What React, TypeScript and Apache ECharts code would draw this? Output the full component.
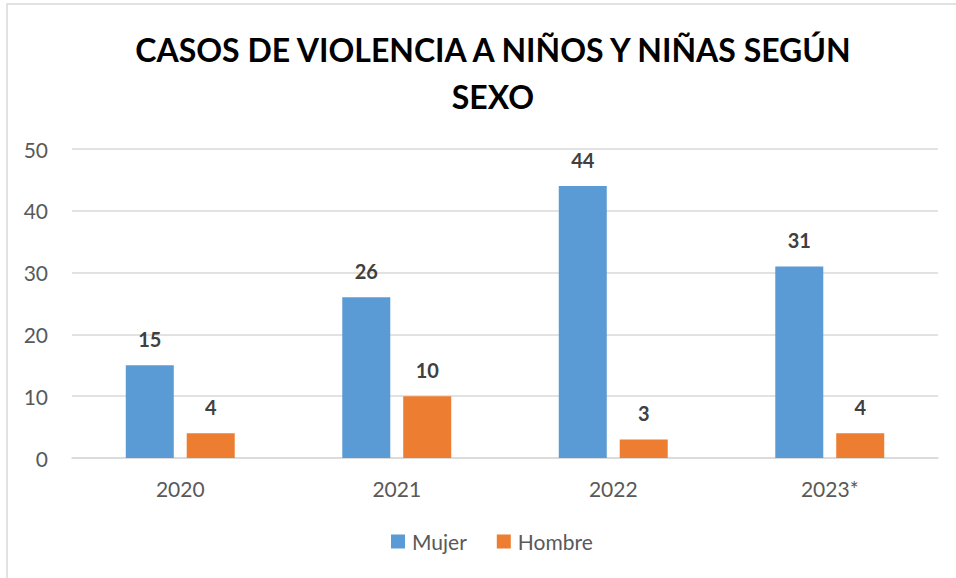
import React, { useEffect, useRef } from "react";
import * as echarts from "echarts";

const categories = ["2020", "2021", "2022", "2023*"];
const mujer = [15, 26, 44, 31];
const hombre = [4, 10, 3, 4];
const seriesNames = ["Mujer", "Hombre"];
const titleText = "CASOS DE VIOLENCIA A NIÑOS Y NIÑAS SEGÚN\nSEXO";

const FONT = "Lato, 'Open Sans', sans-serif";

export default function App() {
  const ref = useRef<HTMLDivElement>(null);
  useEffect(() => {
    if (!ref.current) return;
    const chart = echarts.init(ref.current, undefined, { renderer: "svg" });
    const labelStyle = {
      show: true,
      position: "top" as const,
      distance: 16,
      fontFamily: FONT,
      fontSize: 20,
      fontWeight: "bold" as const,
      color: "#404040",
    };
    chart.setOption({
      animation: false,
      backgroundColor: "#ffffff",
      textStyle: { fontFamily: FONT },
      title: {
        text: titleText,
        left: 488,
        textAlign: "center",
        top: 21,
        textStyle: {
          fontFamily: FONT,
          fontSize: 32,
          fontWeight: "bold",
          color: "#000000",
          lineHeight: 47,
        },
      },
      graphic: [
        {
          type: "rect",
          shape: { x: 7, y: 4, width: 2000, height: 2000 },
          style: { fill: "none", stroke: "#D9D9D9", lineWidth: 1.5 },
          silent: true,
          z: -1,
        },
      ],
      legend: {
        data: seriesNames,
        bottom: 21,
        left: 386,
        itemWidth: 14,
        itemHeight: 14,
        itemGap: 30,
        icon: "rect",
        textStyle: { fontFamily: FONT, fontSize: 21, color: "#595959", padding: [0, 0, 0, 2] },
      },
      grid: { left: 72, right: 18, top: 149, bottom: 120, containLabel: false },
      xAxis: {
        type: "category",
        data: categories,
        axisLine: { show: true, lineStyle: { color: "#D9D9D9", width: 1.5 } },
        axisTick: { show: false },
        axisLabel: { margin: 20, fontFamily: FONT, fontSize: 21, color: "#595959" },
      },
      yAxis: {
        type: "value",
        min: 0,
        max: 50,
        interval: 10,
        axisLine: { show: false },
        axisTick: { show: false },
        splitLine: { lineStyle: { color: "#D9D9D9", width: 1.5 } },
        axisLabel: { margin: 24, fontFamily: FONT, fontSize: 21, color: "#595959" },
      },
      series: [
        {
          name: seriesNames[0],
          type: "bar",
          data: mujer,
          barWidth: 48,
          barGap: "27%",
          itemStyle: { color: "#5B9BD5" },
          label: labelStyle,
        },
        {
          name: seriesNames[1],
          type: "bar",
          data: hombre,
          barWidth: 48,
          barGap: "27%",
          itemStyle: { color: "#ED7D31" },
          label: labelStyle,
        },
      ],
    });
    return () => chart.dispose();
  }, []);
  return (
    <div
      ref={ref}
      style={{ position: "fixed", left: 0, top: 0, width: 956, height: 578 }}
    />
  );
}
